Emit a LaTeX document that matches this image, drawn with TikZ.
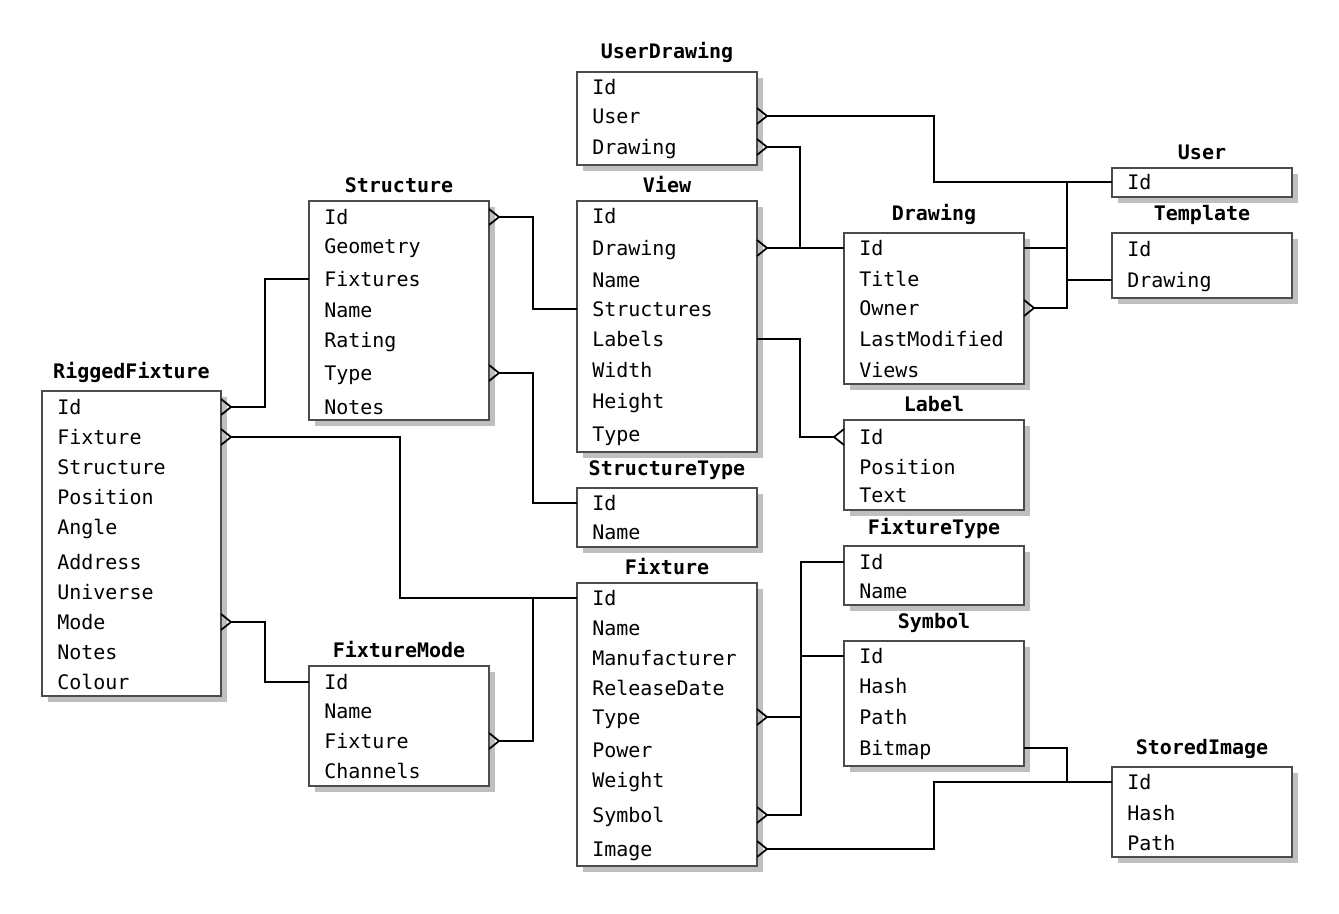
\documentclass[tikz,border=0pt]{standalone}
\usepackage{fontspec}
\setmainfont{DejaVu Sans Mono}
\begin{document}
\begin{tikzpicture}[x=0.75pt,y=-0.75pt,
  conn/.style={draw=black,line width=1.3pt},
  ebox/.style={draw=black!70,line width=0.9pt,fill=white,inner sep=0pt,outer sep=0pt},
  etitle/.style={font=\fontsize{15}{18}\selectfont\bfseries,inner sep=0pt,text height=10.9pt,text depth=0pt,anchor=center},
  erowst/.style={font=\fontsize{15}{18}\selectfont,inner sep=0pt,text height=10.9pt,text depth=0pt,anchor=west},
  shadowc/.style={fill=black!25}]
\useasboundingbox[fill=white] (0,0) rectangle (1339,914);

\newcommand\enttable[7]{%
  \fill[shadowc] (#3+6,#4+6) rectangle (#5+6,#6+6);
  \node[ebox,minimum width={(#5-#3)*0.75pt},minimum height={(#6-#4)*0.75pt}] (#1) at ({(#3+#5)/2},{(#4+#6)/2}) {};
  \node[etitle] (#1-title) at ({(#3+#5)/2},#7) {#2};}
\newcommand\erow[4]{\node[erowst] (#1-#2) at (#3,#4) {#2};}
\newcommand\crowR[1]{\draw[conn] (#1) ++(0,-8) -- ++(10,8) -- ++(-10,8);}
\newcommand\crowL[1]{\draw[conn] (#1) ++(0,-8) -- ++(-10,8) -- ++(10,8);}

% ---------- tables ----------
\enttable{userdrawing}{UserDrawing}{577}{72}{757}{165}{51}
\erow{userdrawing}{Id}{592}{87}
\erow{userdrawing}{User}{592}{116}
\erow{userdrawing}{Drawing}{592}{147}

\enttable{view}{View}{577}{201}{757}{452}{185}
\erow{view}{Id}{592}{216}
\erow{view}{Drawing}{592}{248}
\erow{view}{Name}{592}{280}
\erow{view}{Structures}{592}{309}
\erow{view}{Labels}{592}{339}
\erow{view}{Width}{592}{370}
\erow{view}{Height}{592}{401}
\erow{view}{Type}{592}{434}

\enttable{drawing}{Drawing}{844}{233}{1024}{384}{213}
\erow{drawing}{Id}{859}{248}
\erow{drawing}{Title}{859}{279}
\erow{drawing}{Owner}{859}{308}
\erow{drawing}{LastModified}{859}{339}
\erow{drawing}{Views}{859}{370}

\enttable{user}{User}{1112}{168}{1292}{197}{152}
\erow{user}{Id}{1127}{182}

\enttable{template}{Template}{1112}{233}{1292}{298}{213}
\erow{template}{Id}{1127}{249}
\erow{template}{Drawing}{1127}{280}

\enttable{label}{Label}{844}{420}{1024}{510}{404}
\erow{label}{Id}{859}{437}
\erow{label}{Position}{859}{467}
\erow{label}{Text}{859}{495}

\enttable{structure}{Structure}{309}{201}{489}{420}{185}
\erow{structure}{Id}{324}{217}
\erow{structure}{Geometry}{324}{246}
\erow{structure}{Fixtures}{324}{279}
\erow{structure}{Name}{324}{310}
\erow{structure}{Rating}{324}{340}
\erow{structure}{Type}{324}{373}
\erow{structure}{Notes}{324}{407}

\enttable{structuretype}{StructureType}{577}{488}{757}{547}{468}
\erow{structuretype}{Id}{592}{503}
\erow{structuretype}{Name}{592}{532}

\enttable{rigged}{RiggedFixture}{42}{391}{221}{696}{371}
\erow{rigged}{Id}{57}{407}
\erow{rigged}{Fixture}{57}{437}
\erow{rigged}{Structure}{57}{467}
\erow{rigged}{Position}{57}{497}
\erow{rigged}{Angle}{57}{527}
\erow{rigged}{Address}{57}{562}
\erow{rigged}{Universe}{57}{592}
\erow{rigged}{Mode}{57}{622}
\erow{rigged}{Notes}{57}{652}
\erow{rigged}{Colour}{57}{682}

\enttable{fixturemode}{FixtureMode}{309}{666}{489}{786}{650}
\erow{fixturemode}{Id}{324}{682}
\erow{fixturemode}{Name}{324}{711}
\erow{fixturemode}{Fixture}{324}{741}
\erow{fixturemode}{Channels}{324}{771}

\enttable{fixture}{Fixture}{577}{583}{757}{866}{567}
\erow{fixture}{Id}{592}{598}
\erow{fixture}{Name}{592}{628}
\erow{fixture}{Manufacturer}{592}{658}
\erow{fixture}{ReleaseDate}{592}{688}
\erow{fixture}{Type}{592}{717}
\erow{fixture}{Power}{592}{750}
\erow{fixture}{Weight}{592}{780}
\erow{fixture}{Symbol}{592}{815}
\erow{fixture}{Image}{592}{849}

\enttable{fixturetype}{FixtureType}{844}{546}{1024}{605}{527}
\erow{fixturetype}{Id}{859}{562}
\erow{fixturetype}{Name}{859}{591}

\enttable{symbol}{Symbol}{844}{641}{1024}{766}{621}
\erow{symbol}{Id}{859}{656}
\erow{symbol}{Hash}{859}{686}
\erow{symbol}{Path}{859}{717}
\erow{symbol}{Bitmap}{859}{748}

\enttable{storedimage}{StoredImage}{1112}{767}{1292}{857}{747}
\erow{storedimage}{Id}{1127}{782}
\erow{storedimage}{Hash}{1127}{813}
\erow{storedimage}{Path}{1127}{843}

% ---------- connectors ----------
% UserDrawing.User -> User.Id
\crowR{userdrawing-User -| userdrawing.east}
\draw[conn] (userdrawing-User -| userdrawing.east) ++(10,0) -| (934,0 |- user-Id) -- (user-Id -| user.west);
% UserDrawing.Drawing -> Drawing.Id
\crowR{userdrawing-Drawing -| userdrawing.east}
\draw[conn] (userdrawing-Drawing -| userdrawing.east) ++(10,0) -| (800,0 |- drawing-Id) -- (drawing-Id -| drawing.west);
% View.Drawing -> Drawing.Id
\crowR{view-Drawing -| view.east}
\draw[conn] (view-Drawing -| view.east) ++(10,0) -- (drawing-Id -| drawing.west);
% Structure.Id -> View.Structures
\crowR{structure-Id -| structure.east}
\draw[conn] (structure-Id -| structure.east) ++(10,0) -| (533,0 |- view-Structures) -- (view-Structures -| view.west);
% Structure.Type -> StructureType.Id
\crowR{structure-Type -| structure.east}
\draw[conn] (structure-Type -| structure.east) ++(10,0) -| (533,0 |- structuretype-Id) -- (structuretype-Id -| structuretype.west);
% View.Labels -> Label.Id
\crowL{label-Id -| label.west}
\draw[conn] (view-Labels -| view.east) -| (800,0 |- label-Id) -- ([xshift=-7.5pt]label-Id -| label.west);
% Drawing.Owner -> User.Id
\crowR{drawing-Owner -| drawing.east}
\draw[conn] (drawing-Owner -| drawing.east) ++(10,0) -| (1067,0 |- user-Id) -- (user-Id -| user.west);
% Drawing.Id -> Template.Drawing
\draw[conn] (drawing-Id -| drawing.east) -| (1067,0 |- template-Drawing) -- (template-Drawing -| template.west);
% RiggedFixture.Id -> Structure.Fixtures
\crowR{rigged-Id -| rigged.east}
\draw[conn] (rigged-Id -| rigged.east) ++(10,0) -| (265,0 |- structure-Fixtures) -- (structure-Fixtures -| structure.west);
% RiggedFixture.Fixture -> Fixture.Id
\crowR{rigged-Fixture -| rigged.east}
\draw[conn] (rigged-Fixture -| rigged.east) ++(10,0) -| (400,0 |- fixture-Id) -- (fixture-Id -| fixture.west);
% RiggedFixture.Mode -> FixtureMode.Id
\crowR{rigged-Mode -| rigged.east}
\draw[conn] (rigged-Mode -| rigged.east) ++(10,0) -| (265,0 |- fixturemode-Id) -- (fixturemode-Id -| fixturemode.west);
% FixtureMode.Fixture -> Fixture.Id
\crowR{fixturemode-Fixture -| fixturemode.east}
\draw[conn] (fixturemode-Fixture -| fixturemode.east) ++(10,0) -| (533,0 |- fixture-Id) -- (fixture-Id -| fixture.west);
% Fixture.Type -> FixtureType.Id
\crowR{fixture-Type -| fixture.east}
\draw[conn] (fixture-Type -| fixture.east) ++(10,0) -| (801,0 |- fixturetype-Id) -- (fixturetype-Id -| fixturetype.west);
% Fixture.Symbol -> Symbol.Id
\crowR{fixture-Symbol -| fixture.east}
\draw[conn] (fixture-Symbol -| fixture.east) ++(10,0) -| (801,0 |- symbol-Id) -- (symbol-Id -| symbol.west);
% Fixture.Image -> StoredImage.Id
\crowR{fixture-Image -| fixture.east}
\draw[conn] (fixture-Image -| fixture.east) ++(10,0) -| (934,0 |- storedimage-Id) -- (storedimage-Id -| storedimage.west);
% Symbol.Bitmap -> StoredImage.Id
\draw[conn] (symbol-Bitmap -| symbol.east) -| (1067,0 |- storedimage-Id) -- (storedimage-Id -| storedimage.west);
\end{tikzpicture}
\end{document}
